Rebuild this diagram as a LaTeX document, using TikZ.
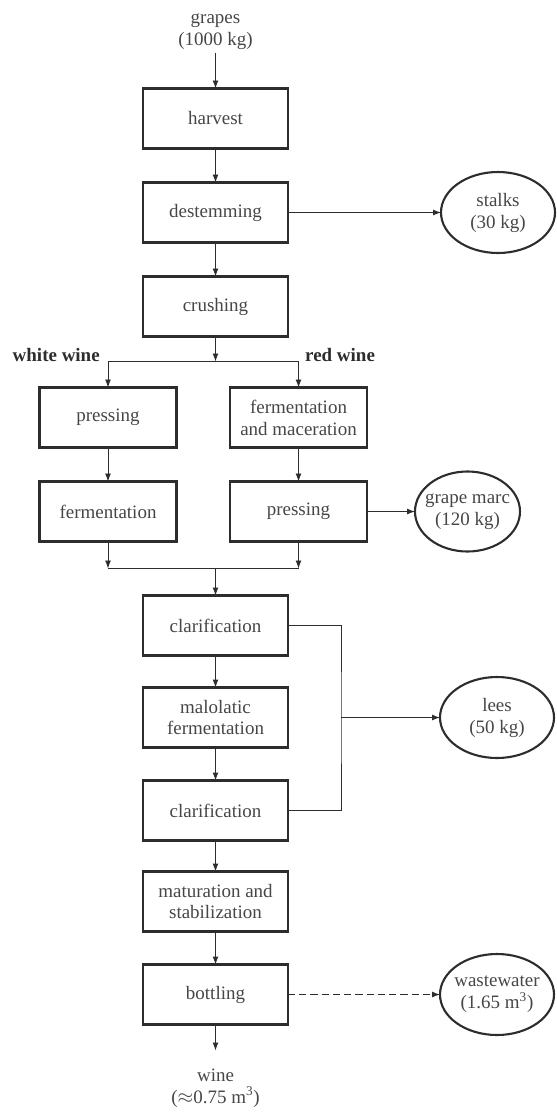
\documentclass[tikz,border=0pt]{standalone}
\usepackage{fontspec}
\setmainfont{Liberation Serif}
\usepackage{tikz}
\usetikzlibrary{shapes.geometric, arrows.meta, positioning}
\definecolor{inkgray}{RGB}{45,45,45}
\definecolor{textgray}{RGB}{70,70,70}
\tikzset{
    procbox/.style={rectangle, draw=inkgray, line width=1.5pt, minimum width=#1, minimum height=1.5cm, align=center, text=textgray, font=\fontsize{13.5}{15.6}\selectfont, inner sep=2pt, outer sep=0pt},
    procbox/.default=3.625cm,
    wastenode/.style={ellipse, draw=inkgray, line width=1.5pt, minimum width=#1, minimum height=2.025cm, align=center, text=textgray, font=\fontsize{13.5}{15.6}\selectfont, inner xsep=-4pt, inner ysep=0pt, outer sep=0pt},
    wastenode/.default=2.85cm,
    flowarrow/.style={-{Latex[length=2mm, width=1.5mm]}, draw=inkgray, line width=0.7pt},
    flowline/.style={draw=inkgray, line width=0.7pt},
    streamlabel/.style={text=textgray, align=center, font=\fontsize{13.5}{15.6}\selectfont, inner sep=2pt, outer sep=0pt},
    branchlabel/.style={text=inkgray, font=\fontsize{13.5}{15.6}\selectfont\bfseries, inner sep=0pt}
}

\begin{document}
\begin{tikzpicture}[node distance=0.85cm]

\useasboundingbox (0,0) rectangle (13.9,-28);

\node[procbox] (harvest) at (5.3875,-2.9625) {harvest};
\node[procbox, below=of harvest] (destem) {destemming};
\node[procbox, below=of destem] (crush) {crushing};
\node[streamlabel, above=0.9cm of harvest] (grapes) {grapes\\(1000 kg)};
\node[wastenode, right=3.825cm of destem] (stalks) {stalks\\(30 kg)};

\coordinate[below=0.625cm of crush] (split);
\node[procbox=3.425cm, below=1.275cm of crush, xshift=-2.6875cm] (wpress) {pressing};
\node[procbox=3.425cm, below=1.275cm of crush, xshift=2.075cm] (macer) {fermentation\\and maceration};
\node[procbox=3.425cm, below=of wpress] (wferm) {fermentation};
\node[procbox=3.425cm, below=of macer] (rpress) {pressing};
\node[wastenode=2.625cm, minimum height=2cm, right=1.2cm of rpress] (marc) {grape marc\\(120 kg)};
\node[branchlabel, anchor=base east, xshift=-0.2cm] (white) at (split -| wpress) {white wine};
\node[branchlabel, anchor=base west, xshift=0.16cm] (red) at (split -| macer) {red wine};

\coordinate[below=0.675cm of wferm] (wmerge);
\coordinate[below=0.675cm of rpress] (rmerge);
\coordinate (merge) at (crush |- wmerge);

\node[procbox, below=0.675cm of merge] (clar1) {clarification};
\node[procbox, below=0.8cm of clar1] (malo) {malolatic\\fermentation};
\node[procbox, below=0.825cm of malo] (clar2) {clarification};
\node[procbox, below=0.775cm of clar2] (matur) {maturation and\\stabilization};
\node[procbox, below=0.825cm of matur] (bottle) {bottling};
\node[streamlabel, inner ysep=0.45cm, below=0.65cm of bottle] (wine) {wine\\($\approx$0.75 m\textsuperscript{3})};

\coordinate[right=1.325cm of malo.east] (leesjn);
\node[wastenode, right=3.8cm of malo] (lees) {lees\\(50 kg)};
\node[wastenode, right=3.8cm of bottle] (waste) {wastewater\\(1.65 m\textsuperscript{3})};

\draw[flowarrow] (grapes) -- (harvest);
\draw[flowarrow] (harvest) -- (destem);
\draw[flowarrow] (destem) -- (crush);
\draw[flowarrow] (destem) -- (stalks);
\draw[flowarrow] (crush) -- (split);
\draw[flowarrow] (split) -| (wpress);
\draw[flowarrow] (split) -| (macer);
\draw[flowarrow] (wpress) -- (wferm);
\draw[flowarrow] (macer) -- (rpress);
\draw[flowarrow] (rpress) -- (marc);
\draw[flowarrow] (wferm) -- (wmerge);
\draw[flowarrow] (rpress) -- (rmerge);
\draw[flowline] (wmerge) -- (rmerge);
\draw[flowarrow] (merge) -- (clar1);
\draw[flowarrow] (clar1) -- (malo);
\draw[flowarrow] (malo) -- (clar2);
\draw[flowarrow] (clar2) -- (matur);
\draw[flowarrow] (matur) -- (bottle);
\draw[flowarrow] (bottle) -- (wine);
\draw[flowline] (clar1.east) -| (leesjn) |- (clar2.east);
\draw[flowarrow] (leesjn) -- (lees);
\draw[flowarrow, dash pattern=on 5pt off 3pt] (bottle) -- (waste);

\end{tikzpicture}
\end{document}
